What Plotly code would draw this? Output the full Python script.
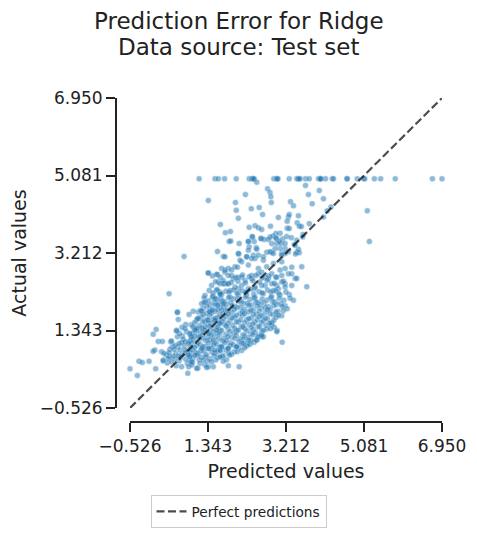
import numpy as np
import plotly.graph_objects as go

# Ridge regression on the test set: predicted vs actual

# targets that hit the 5.0 cap
pred_capped = [1.13, 1.51, 1.59, 1.74, 2.02, 2.33, 2.39, 2.41, 2.43, 2.45, 2.92, 2.99, 2.99,
               3.02, 3.29, 3.47, 3.50, 3.52, 3.55, 3.68, 3.77, 3.99, 4.03, 4.03, 4.05, 4.16,
               4.32, 4.35, 4.67, 4.68, 4.92, 5.07, 5.10, 5.33, 5.48, 5.83, 6.72, 6.95]
actual_capped = [5.00001] * len(pred_capped)

# sparse upper region
pred_upper = [2.51, 2.77, 2.83, 2.85, 2.86, 2.24, 1.35, 2.00, 2.02, 2.07, 2.38, 2.57, 2.65,
              3.68, 4.01, 3.75, 4.11, 3.32, 3.39, 3.84, 4.20, 4.29, 5.16, 5.21, 4.11, 1.64,
              1.76, 1.88, 1.85, 1.89, 2.09, 2.33, 2.47, 2.55, 2.63, 2.84, 3.03, 3.27, 3.29,
              3.51, 3.48, 3.53, 3.58, 3.77, 3.24, 3.24, 3.29, 3.07, 2.97, 2.90, 2.83, 2.40,
              2.62, 2.69, 2.45, 2.31, 2.99, 2.99, 3.13, 3.23, 3.34, 3.62, 3.41, 2.33, 2.50,
              1.57, 0.77, 1.71, 2.08, 2.43, 2.75, 2.87, 3.47, 3.53, 3.44, 3.11, 3.19, 3.19,
              3.07, 2.95, 3.09, 3.19, 2.87]
actual_upper = [4.92, 4.76, 4.67, 4.57, 4.43, 4.62, 4.48, 4.43, 4.24, 4.05, 4.28, 4.31, 4.14,
                4.84, 4.72, 4.62, 4.52, 4.45, 4.35, 4.40, 4.23, 4.32, 4.23, 3.49, 4.08, 3.90,
                3.70, 3.73, 3.49, 3.50, 3.44, 3.83, 3.87, 3.82, 3.78, 3.86, 4.07, 4.08, 4.14,
                4.11, 3.94, 3.86, 3.85, 3.92, 3.98, 3.81, 3.80, 3.69, 3.68, 3.62, 3.60, 3.61,
                3.56, 3.54, 3.49, 3.49, 3.56, 3.44, 3.55, 3.61, 3.58, 3.66, 3.42, 3.36, 3.34,
                3.25, 3.13, 3.13, 3.19, 3.16, 3.23, 3.23, 3.23, 3.22, 3.19, 3.20, 3.20, 3.32,
                3.32, 3.32, 3.44, 3.44, 3.44]

# upper part of the main cloud
pred_mid = [2.31, 2.41, 2.61, 2.79, 2.97, 3.05, 3.47, 3.61,
            1.75, 2.07, 2.31, 2.51, 2.27, 2.47, 2.67, 3.11, 3.27, 3.43, 3.51,
            1.67, 1.83, 1.99, 2.15, 2.31, 2.55, 2.75, 2.91, 3.11, 3.19, 3.43, 3.71, 3.59,
            1.59, 1.75, 1.95, 2.15, 2.39, 2.63, 2.79, 2.99, 3.11, 3.35, 3.07,
            1.63, 1.87, 2.07, 2.27, 2.47, 2.71, 2.91, 2.99, 3.19,
            3.39, 3.29, 3.47, 3.35, 3.12, 3.00, 2.87,
            1.35, 1.57, 1.43, 1.63, 1.71, 1.81, 1.55, 1.75, 1.91, 2.05, 2.11,
            2.27, 2.39, 2.55, 2.67, 2.83, 2.91]
actual_mid = [3.49, 3.60, 3.56, 3.54, 3.57, 3.49, 3.52, 3.60,
              3.12, 3.20, 3.28, 3.30, 3.12, 3.08, 3.04, 3.16, 3.24, 3.40, 3.30,
              2.84, 2.84, 2.88, 3.00, 2.92, 2.84, 2.88, 2.96, 3.00, 2.84, 2.60, 2.40, 2.88,
              2.51, 2.47, 2.59, 2.63, 2.67, 2.75, 2.59, 2.63, 2.51, 2.71, 2.80,
              2.27, 2.31, 2.35, 2.27, 2.35, 2.43, 2.31, 2.43, 2.47,
              2.07, 2.21, 2.60, 2.87, 1.06, 1.34, 1.49,
              2.73, 2.69, 2.43, 2.47, 2.47, 2.47, 2.31, 2.80, 2.80, 2.87, 3.04,
              3.12, 3.08, 3.16, 3.12, 3.24, 3.20]

# dense core along the diagonal
pred_core = [1.35, 1.55, 1.75, 1.91, 2.07, 2.23, 2.39, 2.55, 2.71, 2.87, 3.11, 3.27,
             1.83, 1.99, 2.15, 2.31, 2.47, 2.63, 2.87, 3.03, 3.19, 3.35,
             1.27, 1.47, 1.67, 1.87, 2.07, 2.27, 2.47, 2.67, 2.87, 3.07, 3.31,
             1.36, 1.55, 1.74, 1.95, 2.14, 2.35, 2.54, 2.76, 2.95, 3.16,
             1.19, 1.39, 1.59, 1.79, 1.99, 2.19, 2.39, 2.59, 2.79, 2.99, 3.19,
             1.23, 1.42, 1.63, 1.82, 2.03, 2.22, 2.43, 2.62, 2.83, 3.02, 3.24,
             1.11, 1.31, 1.51, 1.71, 1.91, 2.11, 2.31, 2.51, 2.71, 2.91, 3.11,
             1.18, 1.38, 1.57, 1.78, 1.98, 2.17, 2.38, 2.58, 2.77, 2.98,
             1.07, 1.27, 1.47, 1.67, 1.87, 2.07, 2.27, 2.47, 2.67, 2.87,
             0.94, 1.14, 1.34, 1.54, 1.74, 1.93, 2.14, 2.33, 2.54, 2.73, 2.93,
             1.03, 1.23, 1.43, 1.63, 1.83, 2.03, 2.23, 2.43, 2.63, 2.75, 2.99,
             0.97, 1.17, 1.38, 1.57, 1.77, 1.97, 2.18, 2.37, 2.57,
             1.11, 1.31, 1.51, 1.71, 1.91, 2.11, 2.31, 2.51, 2.63,
             0.89, 1.09, 1.29, 1.49, 1.69, 1.89, 2.09, 2.29, 2.45,
             1.07, 1.27, 1.47, 1.67, 1.87, 2.07, 2.27,
             0.97, 1.17, 1.37, 1.57, 1.77, 1.97, 2.15,
             1.11, 1.31, 1.51, 1.71, 1.91,
             0.99, 1.19, 1.39, 1.59, 1.79,
             0.73, 0.81, 0.77, 0.69, 0.85, 0.75, 0.91, 0.83, 0.57, 0.65, 0.49, 0.71, 0.93,
             0.85, 0.61]
actual_core = [2.73, 2.70, 2.75, 2.67, 2.63, 2.55, 2.59, 2.71, 2.63, 2.71, 2.67, 2.71,
               2.47, 2.39, 2.43, 2.35, 2.39, 2.43, 2.47, 2.35, 2.39, 2.43,
               2.19, 2.17, 2.22, 2.15, 2.21, 2.18, 2.14, 2.23, 2.16, 2.20, 2.12,
               2.06, 2.10, 2.04, 2.11, 2.05, 2.09, 2.02, 2.08, 2.03, 2.07,
               1.99, 1.96, 2.01, 1.97, 1.93, 2.00, 1.95, 1.98, 1.92, 1.97, 1.94,
               1.88, 1.85, 1.90, 1.84, 1.89, 1.86, 1.83, 1.88, 1.85, 1.81, 1.87,
               1.79, 1.76, 1.80, 1.74, 1.78, 1.75, 1.79, 1.73, 1.77, 1.72, 1.70,
               1.67, 1.70, 1.65, 1.69, 1.66, 1.71, 1.64, 1.68, 1.62, 1.66,
               1.59, 1.57, 1.61, 1.56, 1.59, 1.55, 1.60, 1.54, 1.58, 1.53,
               1.48, 1.46, 1.50, 1.45, 1.49, 1.47, 1.44, 1.49, 1.43, 1.47, 1.42,
               1.39, 1.37, 1.40, 1.35, 1.38, 1.34, 1.39, 1.36, 1.33, 1.38, 1.31,
               1.28, 1.30, 1.26, 1.29, 1.25, 1.28, 1.24, 1.27, 1.22,
               1.19, 1.16, 1.20, 1.15, 1.18, 1.14, 1.17, 1.13, 1.19,
               1.08, 1.06, 1.10, 1.05, 1.09, 1.04, 1.07, 1.02, 1.06,
               0.99, 0.96, 1.00, 0.95, 0.98, 0.93, 0.97,
               0.88, 0.86, 0.90, 0.84, 0.87, 0.83, 0.86,
               0.79, 0.76, 0.80, 0.74, 0.77,
               0.68, 0.70, 0.66, 0.69, 0.64,
               1.21, 1.49, 0.97, 0.69, 0.55, 1.13, 0.93, 1.31, 0.79, 0.61, 0.95, 1.05, 1.11,
               0.83, 1.19]

# second, in-between layer of the dense core
pred_core2 = [1.45, 1.64, 1.83, 2.01, 2.17, 2.33, 2.49, 2.64, 2.80, 2.97,
              1.52, 1.71, 1.90, 2.06, 2.24, 2.42, 2.58, 2.76, 2.93, 3.15,
              1.37, 1.56, 1.77, 1.96, 2.16, 2.37, 2.57, 2.77, 2.96, 3.21,
              1.46, 1.65, 1.85, 2.04, 2.25, 2.44, 2.64, 2.85, 3.04,
              1.25, 1.45, 1.65, 1.84, 2.05, 2.24, 2.45, 2.64, 2.85, 3.05,
              1.29, 1.49, 1.69, 1.89, 2.09, 2.29, 2.49, 2.69, 2.89, 3.09,
              1.32, 1.52, 1.72, 1.92, 2.12, 2.32, 2.52, 2.72, 2.92, 3.12,
              1.17, 1.37, 1.57, 1.77, 1.97, 2.17, 2.37, 2.57, 2.77, 2.97, 3.15,
              1.23, 1.42, 1.62, 1.83, 2.02, 2.22, 2.43, 2.63, 2.83, 3.03,
              1.12, 1.32, 1.52, 1.72, 1.92, 2.12, 2.32, 2.52, 2.72, 2.92,
              1.02, 1.22, 1.42, 1.62, 1.82, 2.02, 2.22, 2.42, 2.62, 2.82,
              0.98, 1.18, 1.38, 1.58, 1.78, 1.98, 2.18, 2.38, 2.58, 2.84,
              1.07, 1.27, 1.47, 1.67, 1.87, 2.07, 2.27, 2.47, 2.67,
              0.92, 1.03, 1.22, 1.42, 1.62, 1.82, 2.02, 2.22, 2.42, 2.54,
              0.99, 1.19, 1.39, 1.59, 1.79, 1.99, 2.19, 2.38,
              0.95, 1.15, 1.35, 1.55, 1.75, 1.95, 2.15, 2.35,
              1.02, 1.22, 1.42, 1.62, 1.82, 2.02, 2.22,
              0.92, 1.05, 1.24, 1.44, 1.64, 1.84, 2.04,
              0.92, 1.09, 1.29, 1.49, 1.69, 1.86,
              0.91, 1.13, 1.33, 1.53, 1.71,
              0.55, 0.62, 0.72, 0.79, 0.66, 0.72, 0.81, 0.88, 0.97, 1.15, 1.27, 0.51, 0.43,
              0.37, 0.58]
actual_core2 = [2.66, 2.63, 2.67, 2.62, 2.68, 2.64, 2.67, 2.61, 2.66, 2.63,
                2.52, 2.55, 2.50, 2.53, 2.49, 2.54, 2.51, 2.55, 2.48, 2.53,
                2.31, 2.33, 2.29, 2.32, 2.30, 2.34, 2.28, 2.32, 2.30, 2.27,
                2.25, 2.23, 2.27, 2.24, 2.26, 2.22, 2.25, 2.27, 2.23,
                2.13, 2.15, 2.12, 2.14, 2.11, 2.15, 2.13, 2.10, 2.14, 2.12,
                2.03, 2.01, 2.04, 2.02, 2.05, 2.00, 2.03, 2.01, 2.04, 1.99,
                1.93, 1.95, 1.92, 1.94, 1.91, 1.95, 1.93, 1.90, 1.94, 1.92,
                1.83, 1.81, 1.84, 1.82, 1.85, 1.80, 1.83, 1.81, 1.84, 1.79, 1.82,
                1.73, 1.75, 1.72, 1.74, 1.71, 1.75, 1.73, 1.70, 1.74, 1.71,
                1.63, 1.61, 1.64, 1.62, 1.65, 1.60, 1.63, 1.61, 1.64, 1.59,
                1.53, 1.55, 1.52, 1.54, 1.51, 1.55, 1.53, 1.50, 1.54, 1.52,
                1.43, 1.41, 1.44, 1.42, 1.45, 1.40, 1.43, 1.41, 1.44, 1.39,
                1.33, 1.35, 1.32, 1.34, 1.31, 1.35, 1.33, 1.30, 1.34,
                1.23, 1.21, 1.24, 1.22, 1.25, 1.20, 1.23, 1.21, 1.24, 1.19,
                1.13, 1.15, 1.12, 1.14, 1.11, 1.15, 1.13, 1.10,
                1.03, 1.01, 1.04, 1.02, 1.05, 1.00, 1.03, 1.01,
                0.93, 0.95, 0.92, 0.94, 0.91, 0.95, 0.93,
                0.83, 0.81, 0.84, 0.82, 0.85, 0.80, 0.83,
                0.73, 0.75, 0.72, 0.74, 0.71, 0.75,
                0.62, 0.64, 0.61, 0.63, 0.60,
                0.66, 0.95, 0.76, 1.07, 1.27, 1.42, 0.65, 0.47, 0.57, 0.55, 0.52, 0.72, 0.89,
                0.56, 0.49]

# lower-left tail
pred_tail = [1.83, 2.09, 2.67, 2.63, 2.51, 2.31, 2.19, 2.03, 1.83, 1.63, 1.51, 1.47, 1.35,
             1.10, 0.95, 0.61, 0.63, 0.89, 0.99, 1.09, 1.19, 1.39, 1.51, 0.59, 0.79, 0.91,
             1.03, 0.07, 0.23, 0.27, 0.43, 0.35, 0.45, 0.55, 0.67, 0.79, 0.91,
             0.41, 1.25, 0.61, 1.45, 1.51, 1.58, 1.63, 1.35, 0.59, 0.10, 0.03, 0.15, 0.25,
             0.47, 0.65, 0.03, 0.29, 0.41, 0.53, 0.63, 0.39, 0.27, 0.47, -0.31, -0.23,
             -0.07, -0.526, 0.09, -0.35, 0.86, 1.07, 1.31, 1.03, 1.23, 1.43, 0.79, 0.87,
             0.95, 0.87, 1.07, 1.15, 1.27, 1.35, 1.47, 1.55, 1.63, 1.67, 1.63, 1.19, 1.35,
             1.67, 1.71, 0.95, 0.71]
actual_tail = [0.49, 0.47, 1.19, 1.23, 1.11, 1.11, 1.03, 0.95, 0.91, 0.87, 0.87, 0.47, 0.47,
               0.43, 0.51, 1.79, 1.61, 1.73, 1.81, 1.63, 1.81, 1.79, 1.59, 1.35, 1.39, 1.27,
               1.35, 0.87, 0.83, 0.63, 0.71, 0.75, 1.07, 0.99, 0.87, 0.79, 0.71,
               2.23, 2.02, 1.78, 1.83, 2.11, 1.95, 2.22, 1.59, 1.33, 1.37, 1.25, 1.08, 1.08,
               1.09, 1.03, 0.84, 0.79, 0.81, 0.89, 0.73, 0.67, 0.61, 0.59, 0.60, 0.57,
               0.60, 0.42, 0.42, 0.26, 0.31, 0.43, 0.45, 0.75, 0.63, 0.59, 0.87, 0.75,
               1.19, 1.03, 1.39, 1.19, 1.43, 1.27, 1.11, 1.35, 1.51, 0.95, 0.71, 0.91, 0.91,
               1.83, 1.99, 0.59, 0.47]

y_pred = np.array(pred_capped + pred_upper + pred_mid + pred_core + pred_core2 + pred_tail)
y_true = np.array(actual_capped + actual_upper + actual_mid + actual_core + actual_core2 + actual_tail)

# same limits / ticks as sklearn's PredictionErrorDisplay
lo = min(y_pred.min(), y_true.min())
hi = max(y_pred.max(), y_true.max())
ticks = np.linspace(lo, hi, num=5)
tick_text = [f"{t:.3f}".replace("-", "\u2212") for t in ticks]

FONT = "DejaVu Sans, Liberation Sans, sans-serif"
INK = "#222222"

fig = go.Figure()
fig.add_trace(go.Scatter(
    x=y_pred, y=y_true, mode="markers", showlegend=False, cliponaxis=False,
    marker=dict(size=6, color="#1f77b4", opacity=0.5,
                line=dict(color="white", width=0.4)),
    hoverinfo="skip",
))
fig.add_trace(go.Scatter(
    x=[lo, hi], y=[lo, hi], mode="lines", name="Perfect predictions",
    line=dict(color="rgba(0,0,0,0.7)", width=2.2, dash="8px,3.5px"),
))

# the page body adds an 8px margin, so the figure is 8px smaller than the window
W, H = 469, 527
ml, mr, mt, mb = 108, 35, 90, 113
off = 14  # despined offset of the axes
pw, ph = W - ml - mr, H - mt - mb

axis_common = dict(
    range=[lo, hi], tickvals=ticks, ticktext=tick_text,
    showline=True, linewidth=2, linecolor=INK, mirror=False,
    ticks="outside", ticklen=9, tickwidth=2, tickcolor=INK,
    tickfont=dict(size=17, color=INK, family=FONT),
    showgrid=False, zeroline=False, anchor="free", position=0,
    automargin=False,
)

fig.update_layout(
    width=W, height=H,
    margin=dict(l=ml, r=mr, t=mt, b=mb, autoexpand=False),
    paper_bgcolor="white", plot_bgcolor="white",
    font=dict(family=FONT, color=INK),
    xaxis=dict(axis_common, domain=[off / pw, 1],
               title=dict(text="Predicted values", font=dict(size=19), standoff=8)),
    yaxis=dict(axis_common, domain=[off / ph, 1],
               title=dict(text="Actual values", font=dict(size=19), standoff=9)),
    legend=dict(orientation="h", xref="container", x=0.4915, xanchor="center",
                yref="container", y=0.076, yanchor="top",
                bordercolor="#cccccc", borderwidth=1, bgcolor="white",
                font=dict(size=13.7, color=INK, family=FONT), itemwidth=30),
)

# two-line suptitle centred on the window
title_lines = ["Prediction Error for Ridge", "Data source: Test set"]
for line, py in zip(title_lines, [13, 39]):
    fig.add_annotation(text=line, showarrow=False,
                       xref="paper", x=(230.5 - ml) / pw, xanchor="center",
                       yref="paper", y=1 + (mt - py) / ph, yanchor="middle",
                       font=dict(size=23, color=INK, family=FONT))

fig.write_html("out.html")
